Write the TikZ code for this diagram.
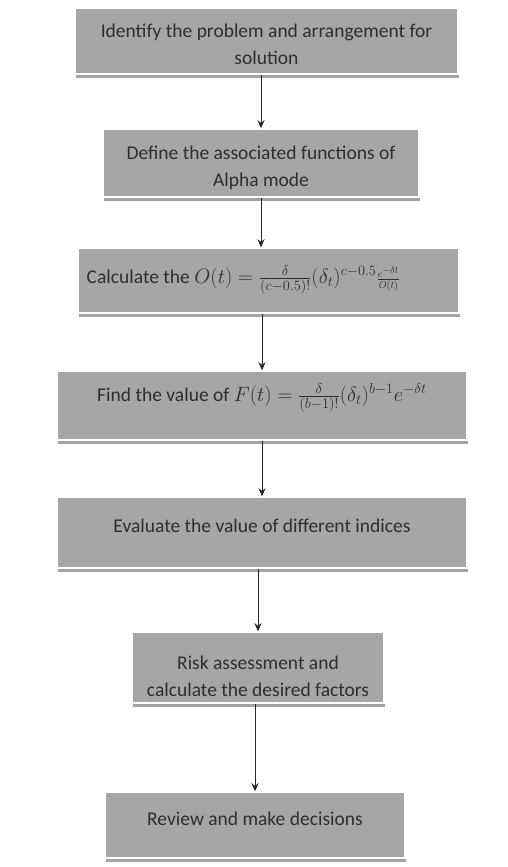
\documentclass[tikz,border=0pt]{standalone}
\usepackage{fontspec}
\setmainfont{Carlito}
\usetikzlibrary{shadows,arrows.meta}
\newcommand{\boxtext}[2]{\raisebox{#1}[\height][\depth]{\begin{tabular}{@{}c@{}}#2\end{tabular}}}
\newcommand{\oneline}[2]{\raisebox{#1}[\height][\depth]{#2}}
\begin{document}
\begin{tikzpicture}[x=1pt,y=-1pt,
  box/.style={draw=white, line width=1.5pt, fill=black!35, text=black!82,
    align=center, font=\fontsize{19.5}{27}\selectfont, inner sep=0pt,
    drop shadow={shadow xshift=0.8pt, shadow yshift=-4pt, fill=black!45, opacity=0.8}},
  arr/.style={-{Stealth[length=8pt,width=7pt]}, line width=1pt, black!85}]
\useasboundingbox (0,0) rectangle (507,867);
\node[box, minimum width=383pt, minimum height=66pt] (b1) at (266.5,41) {\boxtext{-5pt}{Identify the problem and arrangement for\\solution}};
\node[box, minimum width=316pt, minimum height=68pt] (b2) at (261,163) {\boxtext{-5pt}{Define the associated functions of\\Alpha mode}};
\node[box, minimum width=381pt, minimum height=65pt] (b3) at (268.5,280.5) {\oneline{1pt}{Calculate the $O(t)=\frac{\delta}{(c-0.5)!}(\delta_t)^{c-0.5}{\scriptstyle\frac{e^{-\delta t}}{O(t)}}$}\hspace*{50pt}};
\node[box, minimum width=410pt, minimum height=69pt] (b4) at (262,405.5) {\oneline{8pt}{Find the value of $F(t)=\frac{\delta}{(b-1)!}(\delta_t)^{b-1}e^{-\delta t}$}};
\node[box, minimum width=410pt, minimum height=71pt] (b5) at (262,532.5) {\oneline{7pt}{Evaluate the value of different indices}};
\node[box, minimum width=252pt, minimum height=71pt] (b6) at (258,667.5) {\boxtext{-10pt}{Risk assessment and\\calculate the desired factors}};
\node[box, minimum width=300pt, minimum height=66pt] (b7) at (255,825) {\oneline{6pt}{Review and make decisions}};
\draw[arr] (b1.south -| b2.north) -- (b2.north);
\draw[arr] (b2.south) -- (b2.south |- b3.north);
\draw[arr] (b4.north |- b3.south) -- (b4.north);
\draw[arr] (b4.south) -- (b5.north);
\draw[arr] (b6.north |- b5.south) -- (b6.north);
\draw[arr] (b7.north |- b6.south) -- (b7.north);
\end{tikzpicture}
\end{document}
